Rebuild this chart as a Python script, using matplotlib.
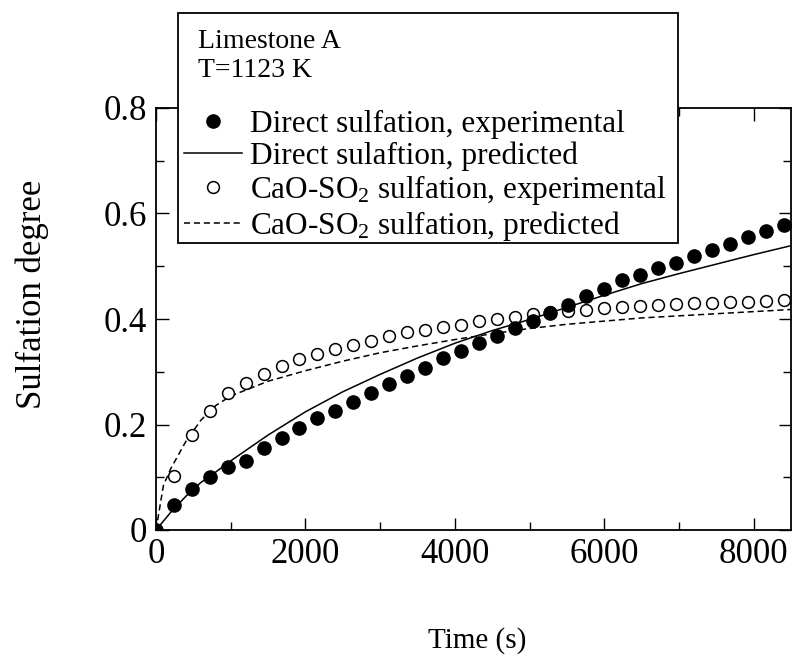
import matplotlib
matplotlib.use('Agg')
import matplotlib.pyplot as plt
from matplotlib.patches import Rectangle
from matplotlib.ticker import MultipleLocator, FuncFormatter

plt.rcParams['font.family'] = ['Liberation Serif', 'DejaVu Serif']
plt.rcParams['mathtext.fontset'] = 'custom'
plt.rcParams['mathtext.rm'] = 'Liberation Serif'
plt.rcParams['mathtext.it'] = 'Liberation Serif:italic'

# experimental points (s, sulfation degree)
t_direct = [0, 240, 480, 720, 960, 1200, 1440, 1680, 1920, 2160, 2400, 2640,
            2880, 3120, 3360, 3600, 3840, 4080, 4320, 4560, 4800, 5040, 5280,
            5520, 5760, 6000, 6240, 6480, 6720, 6960, 7200, 7440, 7680, 7920,
            8160, 8400]
x_direct = [0.000, 0.047, 0.077, 0.101, 0.119, 0.131, 0.156, 0.174, 0.193,
            0.212, 0.226, 0.243, 0.259, 0.276, 0.292, 0.308, 0.326, 0.340,
            0.354, 0.367, 0.382, 0.397, 0.411, 0.427, 0.444, 0.457, 0.473,
            0.483, 0.496, 0.507, 0.519, 0.531, 0.542, 0.555, 0.567, 0.578]

t_cao = [240, 480, 720, 960, 1200, 1440, 1680, 1920, 2160, 2400, 2640, 2880,
         3120, 3360, 3600, 3840, 4080, 4320, 4560, 4800, 5040, 5280, 5520,
         5760, 6000, 6240, 6480, 6720, 6960, 7200, 7440, 7680, 7920, 8160, 8400]
x_cao = [0.103, 0.181, 0.225, 0.259, 0.279, 0.296, 0.311, 0.324, 0.334, 0.343,
         0.351, 0.359, 0.367, 0.375, 0.379, 0.384, 0.389, 0.396, 0.400, 0.404,
         0.410, 0.413, 0.415, 0.417, 0.420, 0.422, 0.425, 0.427, 0.428, 0.430,
         0.431, 0.432, 0.433, 0.434, 0.436]

# model predictions
t_pred = [0, 100, 200, 400, 600, 800, 1000, 1500, 2000, 2500, 3000, 3500,
          4000, 4500, 5000, 5500, 6000, 6500, 7000, 7500, 8000, 8500]
x_direct_pred = [0.000, 0.017, 0.034, 0.064, 0.090, 0.110, 0.131, 0.180,
                 0.224, 0.262, 0.295, 0.326, 0.354, 0.378, 0.399, 0.422,
                 0.445, 0.467, 0.486, 0.504, 0.522, 0.539]
x_cao_pred = [0.000, 0.085, 0.117, 0.168, 0.208, 0.236, 0.254, 0.282, 0.302,
              0.320, 0.336, 0.349, 0.361, 0.372, 0.382, 0.390, 0.396, 0.402,
              0.406, 0.410, 0.414, 0.418]

W, H = 794, 656
fig = plt.figure(figsize=(W / 100, H / 100), dpi=100)
ax = fig.add_axes([156 / W, 1 - 530 / H, (791 - 156) / W, (530 - 108) / H])

l_cao, = ax.plot(t_cao, x_cao, 'o', ms=8.5, mfc='white', mec='black', mew=1.1,
                 linestyle='none', zorder=3)
l_dir, = ax.plot(t_direct, x_direct, 'o', ms=9.5, color='black',
                 linestyle='none', zorder=4)
l_dp, = ax.plot(t_pred, x_direct_pred, '-', color='black', lw=1.1, zorder=2)
l_cp, = ax.plot(t_pred, x_cao_pred, color='black', lw=1.1,
                linestyle=(0, (4, 2.5)), zorder=2)

ax.set_xlim(0, 8500)
ax.set_ylim(0, 0.8)
ax.xaxis.set_major_locator(MultipleLocator(2000))
ax.xaxis.set_minor_locator(MultipleLocator(1000))
ax.yaxis.set_major_locator(MultipleLocator(0.2))
ax.yaxis.set_minor_locator(MultipleLocator(0.1))
ax.yaxis.set_major_formatter(FuncFormatter(lambda v, p: '0' if abs(v) < 1e-9 else f'{v:.1f}'))
ax.xaxis.set_major_formatter(FuncFormatter(lambda v, p: f'{v:.0f}'))
ax.tick_params(which='both', direction='in', top=True, right=True, width=1.0)
ax.tick_params(which='major', length=9)
ax.tick_params(which='minor', length=6)
ax.tick_params(axis='x', labelsize=25, pad=5.5)
ax.tick_params(axis='y', labelsize=25, pad=6.5)
for s in ax.spines.values():
    s.set_linewidth(1.3)

ax.set_xlabel('Time (s)', fontsize=21)
ax.xaxis.set_label_coords((477 - 156) / 635, (530 - 648) / 422)
ax.xaxis.label.set_va('baseline')
ax.set_ylabel('Sulfation degree', fontsize=25)
ax.yaxis.set_label_coords((41 - 156) / 635, (530 - 294) / 422)
ax.yaxis.label.set_va('baseline')

# legend box with title lines
fig.add_artist(Rectangle((178 / W, 1 - 243 / H), 500 / W, 230 / H,
                         transform=fig.transFigure, facecolor='white',
                         edgecolor='black', lw=1.3, zorder=4))
fig.text(198 / W, 1 - 48 / H, 'Limestone A', fontsize=20, va='baseline', zorder=6)
fig.text(198 / W, 1 - 77 / H, 'T=1123 K', fontsize=20, va='baseline', zorder=6)

leg = fig.legend([l_dir, l_dp, l_cao, l_cp],
                 ['Direct sulfation, experimental',
                  'Direct sulaftion, predicted',
                  'CaO-SO$_2$ sulfation, experimental',
                  'CaO-SO$_2$ sulfation, predicted'],
                 loc='upper left', bbox_to_anchor=(184 / W, 1 - 110 / H),
                 bbox_transform=fig.transFigure, frameon=False, fontsize=22.5,
                 borderpad=0, borderaxespad=0, handlelength=1.85,
                 handletextpad=0.25, labelspacing=0.07)
leg.set_zorder(6)

fig.savefig('out.png', dpi=100)
